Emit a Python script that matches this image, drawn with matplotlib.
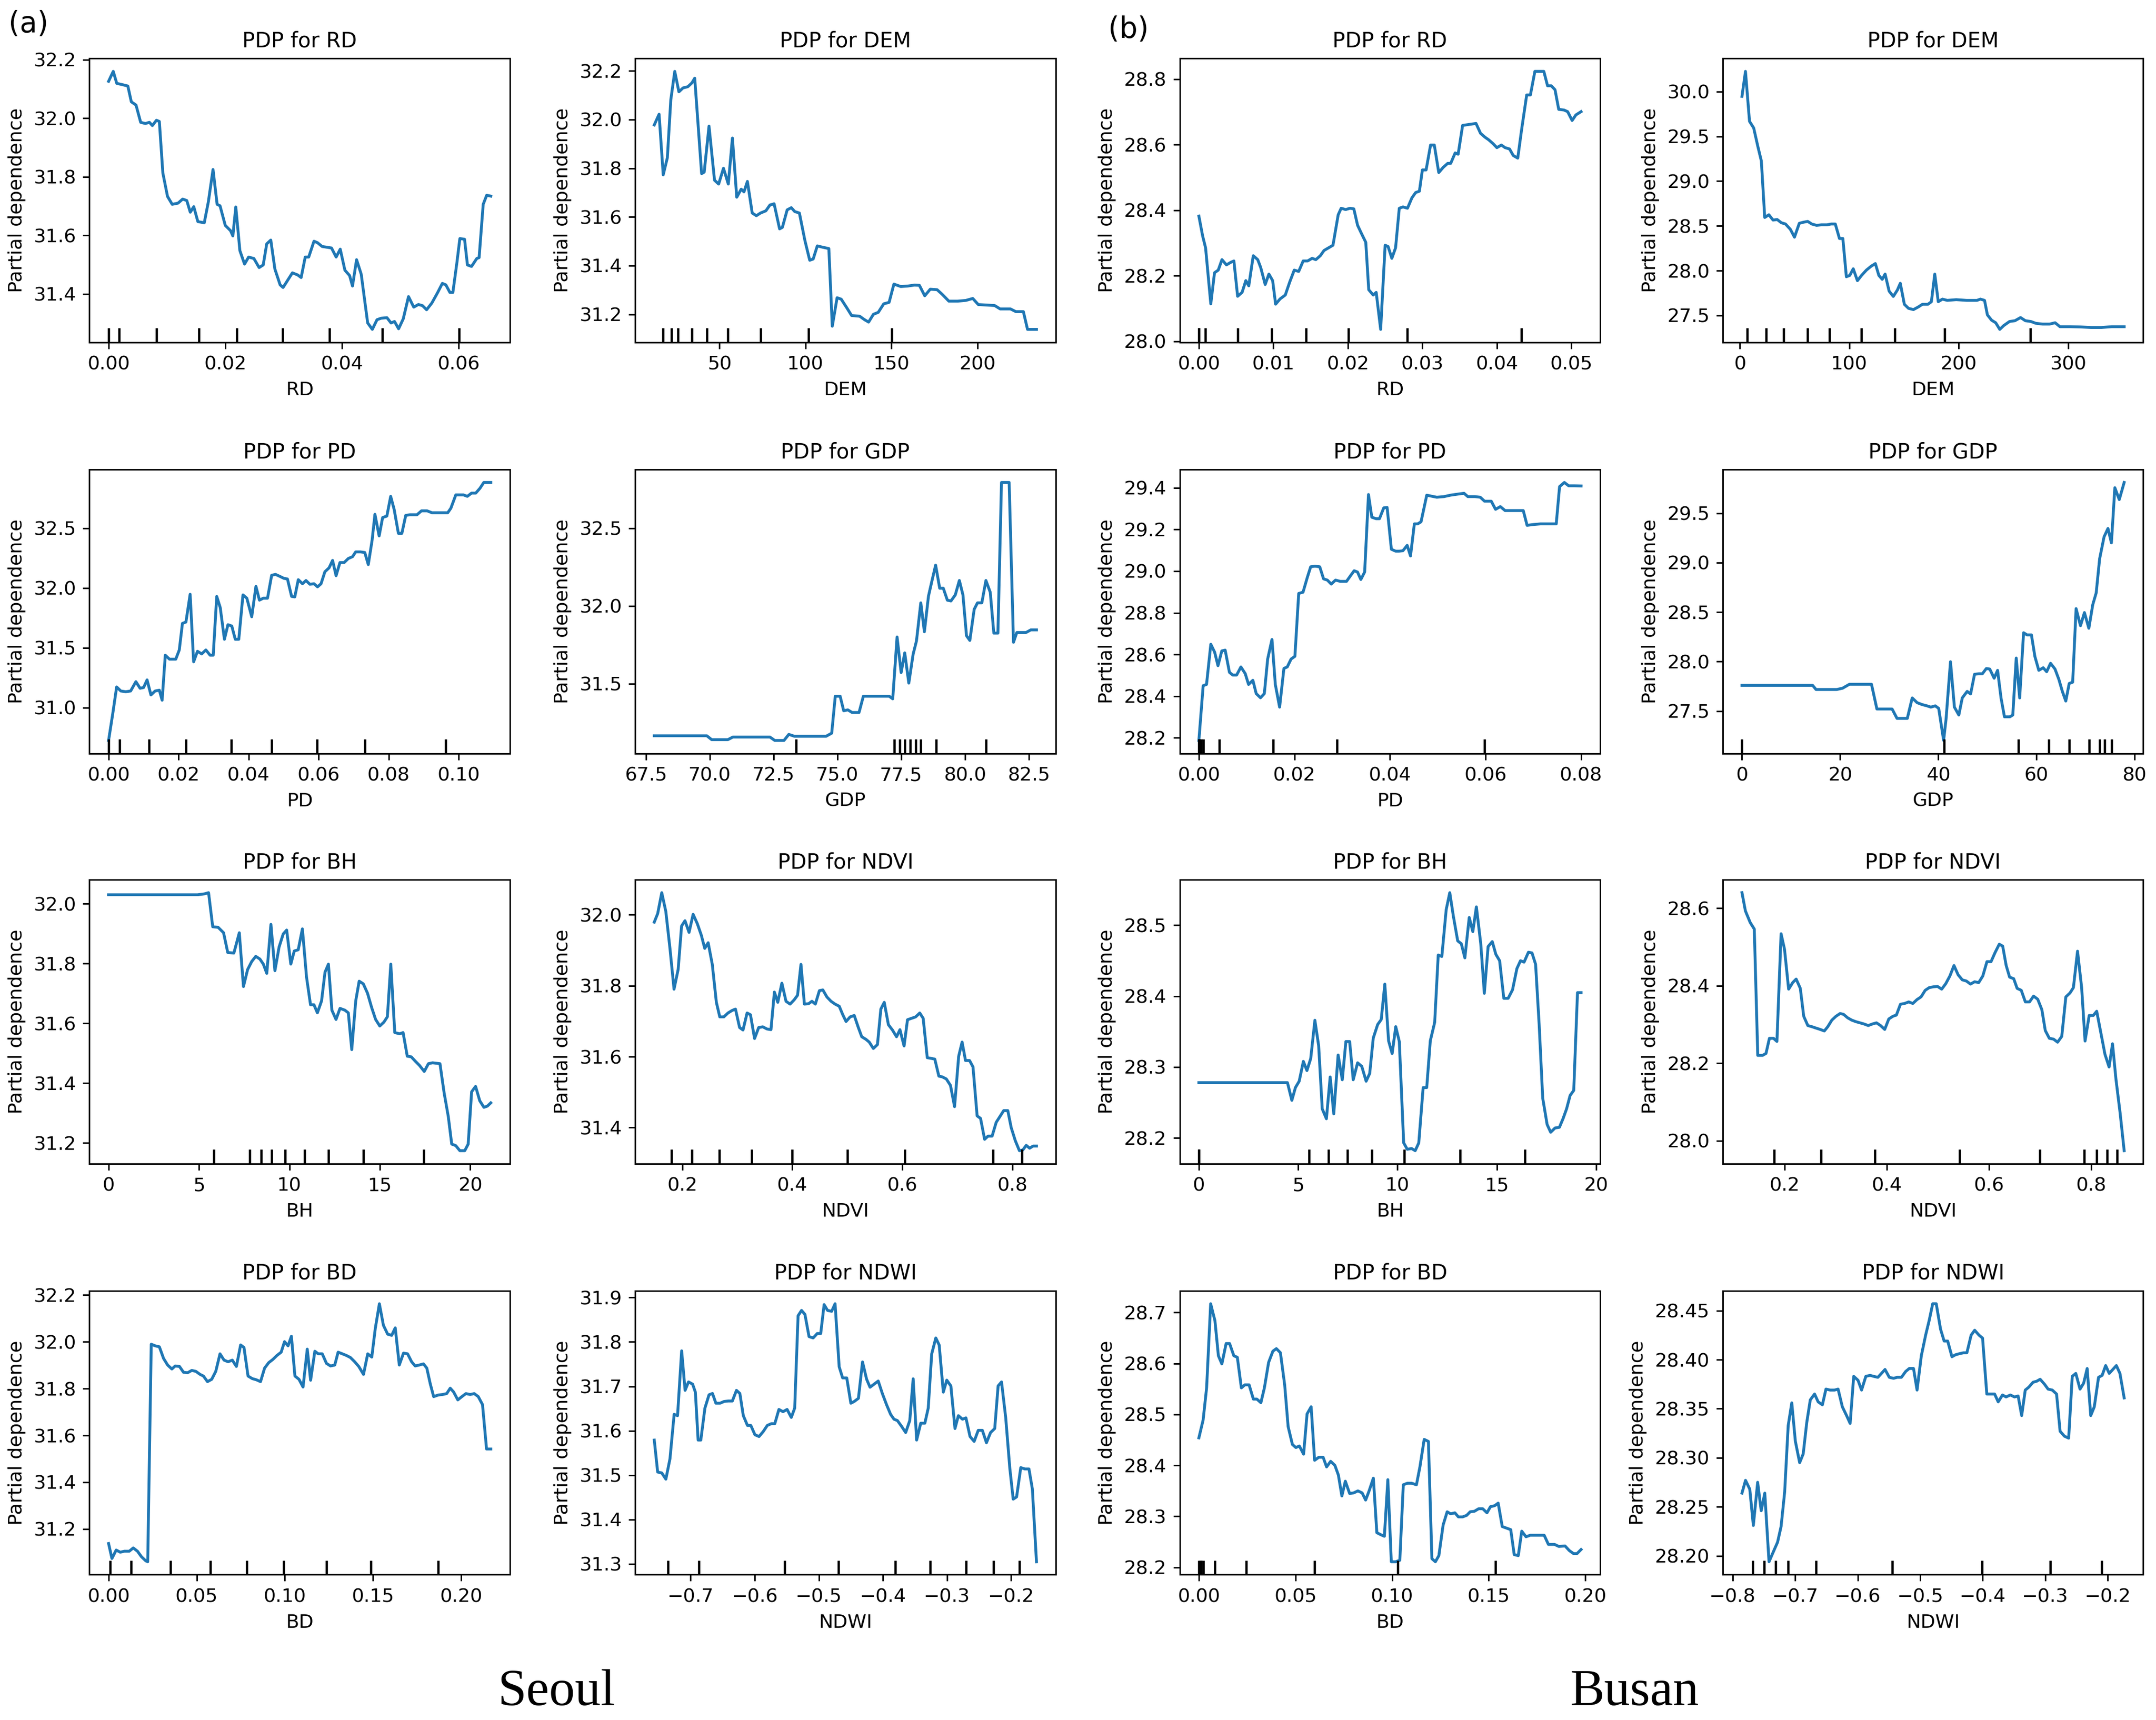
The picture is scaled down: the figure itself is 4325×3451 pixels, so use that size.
import matplotlib
matplotlib.use('Agg')
import matplotlib.pyplot as plt
from matplotlib.ticker import MultipleLocator

# ---- Seoul ----
seoul_rd_x = [0.0, 0.0008, 0.0014, 0.0023, 0.0033, 0.0039, 0.0047, 0.0055, 0.0063, 0.0070,
              0.0075, 0.0082, 0.0087, 0.0093, 0.0101, 0.0109, 0.0119, 0.0127, 0.0134, 0.0140,
              0.0146, 0.0153, 0.0164, 0.0171, 0.0179, 0.0186, 0.0191, 0.0200, 0.0209, 0.0213,
              0.0218, 0.0225, 0.0233, 0.0240, 0.0249, 0.0258, 0.0265, 0.0271, 0.0278, 0.0285,
              0.0294, 0.0299, 0.0315, 0.0324, 0.0330, 0.0337, 0.0343, 0.0352, 0.0358, 0.0366,
              0.0382, 0.0390, 0.0397, 0.0405, 0.0413, 0.0418, 0.0425, 0.0433, 0.0444, 0.0452,
              0.0460, 0.0467, 0.0477, 0.0484, 0.0490, 0.0497, 0.0505, 0.0514, 0.0523, 0.0531,
              0.0538, 0.0545, 0.0554, 0.0564, 0.0572, 0.0578, 0.0585, 0.0590, 0.0597, 0.0602,
              0.0610, 0.0615, 0.0622, 0.0631, 0.0635, 0.0642, 0.0648, 0.0655]
seoul_rd_y = [32.126, 32.160, 32.119, 32.115, 32.110, 32.056, 32.045, 31.986, 31.982, 31.986,
              31.975, 31.993, 31.989, 31.813, 31.733, 31.706, 31.710, 31.724, 31.719, 31.679,
              31.698, 31.647, 31.643, 31.715, 31.825, 31.706, 31.701, 31.634, 31.616, 31.598,
              31.697, 31.548, 31.502, 31.526, 31.521, 31.490, 31.499, 31.571, 31.584, 31.485,
              31.431, 31.422, 31.472, 31.465, 31.456, 31.526, 31.526, 31.580, 31.575, 31.562,
              31.557, 31.526, 31.553, 31.481, 31.463, 31.427, 31.517, 31.467, 31.301, 31.279,
              31.312, 31.317, 31.319, 31.301, 31.306, 31.281, 31.315, 31.391, 31.355, 31.364,
              31.360, 31.346, 31.369, 31.405, 31.436, 31.431, 31.405, 31.405, 31.508, 31.589,
              31.587, 31.499, 31.494, 31.521, 31.524, 31.706, 31.737, 31.734]
seoul_rd_dec = [0.0, 0.0018, 0.0082, 0.0155, 0.0220, 0.0298, 0.0379, 0.0469, 0.0601]

seoul_dem_x = [12.2, 15.0, 17.4, 19.8, 21.8, 24.1, 26.5, 28.9, 31.7, 34.1,
               35.7, 39.7, 41.2, 44.0, 47.2, 49.6, 52.4, 55.2, 57.6, 60.1,
               62.7, 64.3, 66.3, 69.1, 71.5, 73.9, 77.0, 79.4, 81.8, 85.0,
               86.6, 89.4, 91.8, 93.8, 96.5, 99.7, 102.5, 104.5, 106.9, 109.7,
               113.6, 115.6, 118.4, 120.8, 124.0, 126.8, 131.5, 134.3, 136.7, 139.5,
               142.3, 145.5, 148.6, 151.4, 155.4, 159.4, 163.4, 166.2, 169.3, 172.5,
               176.5, 179.3, 183.3, 188.4, 193.2, 197.2, 200.4, 205.1, 209.9, 213.1,
               219.1, 222.2, 226.6, 229.0, 234.2]
seoul_dem_y = [31.978, 32.022, 31.773, 31.843, 32.081, 32.198, 32.114, 32.130, 32.135, 32.151,
               32.170, 31.778, 31.784, 31.973, 31.751, 31.735, 31.800, 31.735, 31.924, 31.681,
               31.714, 31.703, 31.746, 31.616, 31.605, 31.616, 31.625, 31.649, 31.654, 31.551,
               31.557, 31.629, 31.638, 31.622, 31.616, 31.503, 31.422, 31.427, 31.481, 31.476,
               31.470, 31.151, 31.268, 31.262, 31.227, 31.195, 31.192, 31.178, 31.168, 31.200,
               31.208, 31.243, 31.249, 31.324, 31.314, 31.316, 31.320, 31.319, 31.276, 31.303,
               31.301, 31.283, 31.254, 31.254, 31.257, 31.265, 31.240, 31.238, 31.236, 31.222,
               31.222, 31.211, 31.211, 31.138, 31.138]
seoul_dem_dec = [17.4, 22.2, 26.1, 34.1, 42.8, 54.8, 73.9, 101.7, 150.2]

seoul_pd_x = [0.0, 0.0012, 0.0023, 0.0035, 0.0049, 0.0063, 0.0078, 0.0090, 0.0100, 0.0110,
              0.0121, 0.0133, 0.0145, 0.0153, 0.0162, 0.0174, 0.0192, 0.0202, 0.0211, 0.0221,
              0.0233, 0.0243, 0.0254, 0.0266, 0.0278, 0.0290, 0.0299, 0.0309, 0.0319, 0.0331,
              0.0341, 0.0352, 0.0362, 0.0372, 0.0384, 0.0395, 0.0409, 0.0421, 0.0431, 0.0442,
              0.0454, 0.0466, 0.0477, 0.0489, 0.0501, 0.0511, 0.0523, 0.0532, 0.0542, 0.0554,
              0.0564, 0.0575, 0.0587, 0.0597, 0.0607, 0.0618, 0.0630, 0.0640, 0.0650, 0.0661,
              0.0673, 0.0685, 0.0697, 0.0706, 0.0720, 0.0732, 0.0742, 0.0753, 0.0761, 0.0773,
              0.0783, 0.0795, 0.0806, 0.0816, 0.0828, 0.0838, 0.0849, 0.0861, 0.0881, 0.0894,
              0.0910, 0.0924, 0.0949, 0.0969, 0.0978, 0.0992, 0.1014, 0.1025, 0.1037, 0.1049,
              0.1061, 0.1072, 0.1092]
seoul_pd_y = [30.726, 30.951, 31.173, 31.139, 31.133, 31.139, 31.217, 31.162, 31.168, 31.232,
              31.106, 31.139, 31.146, 31.062, 31.438, 31.405, 31.405, 31.482, 31.704, 31.715,
              31.947, 31.383, 31.471, 31.449, 31.482, 31.438, 31.438, 31.929, 31.836, 31.571,
              31.693, 31.682, 31.571, 31.571, 31.942, 31.914, 31.759, 32.013, 31.898, 31.914,
              31.914, 32.106, 32.113, 32.097, 32.080, 32.075, 31.929, 31.925, 32.069, 32.035,
              32.062, 32.031, 32.035, 32.009, 32.035, 32.135, 32.168, 32.230, 32.102, 32.212,
              32.212, 32.246, 32.261, 32.301, 32.301, 32.296, 32.195, 32.400, 32.615, 32.434,
              32.588, 32.600, 32.765, 32.655, 32.456, 32.456, 32.606, 32.611, 32.611, 32.644,
              32.644, 32.628, 32.628, 32.628, 32.666, 32.777, 32.777, 32.765, 32.792, 32.792,
              32.832, 32.881, 32.881]
seoul_pd_dec = [0.0, 0.0031, 0.0115, 0.0221, 0.0350, 0.0466, 0.0595, 0.0732, 0.0963]

seoul_gdp_x = [67.83, 69.89, 70.08, 70.71, 70.91, 71.68, 72.36, 72.55, 72.91, 73.10,
               73.32, 74.56, 74.78, 74.92, 75.11, 75.25, 75.41, 75.58, 75.85, 76.02,
               76.62, 77.03, 77.17, 77.34, 77.50, 77.64, 77.80, 77.97, 78.10, 78.27,
               78.41, 78.57, 78.71, 78.85, 79.01, 79.15, 79.31, 79.45, 79.62, 79.78,
               79.92, 80.06, 80.19, 80.36, 80.49, 80.66, 80.82, 80.99, 81.13, 81.29,
               81.43, 81.73, 81.90, 82.03, 82.39, 82.58, 82.80]
seoul_gdp_y = [31.164, 31.164, 31.139, 31.139, 31.156, 31.156, 31.156, 31.134, 31.134, 31.173,
               31.161, 31.161, 31.181, 31.419, 31.419, 31.325, 31.331, 31.314, 31.314, 31.419,
               31.419, 31.419, 31.402, 31.800, 31.571, 31.698, 31.503, 31.690, 31.775, 32.020,
               31.834, 32.063, 32.164, 32.263, 32.114, 32.114, 32.037, 32.032, 32.071, 32.164,
               32.071, 31.808, 31.778, 31.978, 32.020, 32.020, 32.164, 32.088, 31.825, 31.825,
               32.795, 32.795, 31.766, 31.829, 31.829, 31.846, 31.846]
seoul_gdp_dec = [73.38, 77.23, 77.45, 77.64, 77.86, 78.08, 78.27, 78.87, 80.82]

seoul_bh_x = [0.0, 4.92, 5.30, 5.53, 5.76, 6.06, 6.36, 6.59, 6.93, 7.23,
              7.46, 7.69, 7.92, 8.14, 8.37, 8.56, 8.75, 8.98, 9.20, 9.43,
              9.66, 9.85, 10.08, 10.27, 10.49, 10.72, 10.95, 11.17, 11.36, 11.55,
              11.78, 11.97, 12.16, 12.35, 12.58, 12.80, 13.07, 13.26, 13.45, 13.67,
              13.86, 14.09, 14.32, 14.55, 14.77, 15.00, 15.23, 15.42, 15.61, 15.83,
              16.10, 16.29, 16.52, 16.74, 16.97, 17.20, 17.46, 17.69, 17.92, 18.33,
              18.56, 18.79, 18.98, 19.20, 19.43, 19.70, 19.89, 20.08, 20.30, 20.53,
              20.76, 20.95, 21.14]
seoul_bh_y = [32.030, 32.030, 32.033, 32.037, 31.923, 31.921, 31.903, 31.837, 31.835, 31.903,
              31.723, 31.780, 31.807, 31.824, 31.815, 31.798, 31.767, 31.931, 31.776, 31.855,
              31.899, 31.912, 31.798, 31.842, 31.846, 31.916, 31.754, 31.662, 31.662, 31.635,
              31.675, 31.771, 31.798, 31.644, 31.613, 31.650, 31.644, 31.635, 31.512, 31.675,
              31.741, 31.732, 31.701, 31.653, 31.613, 31.591, 31.604, 31.622, 31.798, 31.569,
              31.565, 31.569, 31.490, 31.488, 31.473, 31.459, 31.439, 31.465, 31.468, 31.465,
              31.367, 31.288, 31.196, 31.191, 31.174, 31.174, 31.196, 31.371, 31.389, 31.341,
              31.319, 31.323, 31.334]
seoul_bh_dec = [5.83, 7.80, 8.45, 9.02, 9.77, 10.83, 12.16, 14.09, 17.42]

seoul_ndvi_x = [0.1492, 0.1554, 0.1628, 0.1702, 0.1777, 0.1851, 0.1926, 0.1988, 0.2050, 0.2124,
                0.2198, 0.2273, 0.2347, 0.2409, 0.2471, 0.2546, 0.2620, 0.2682, 0.2756, 0.2831,
                0.2905, 0.2967, 0.3042, 0.3104, 0.3178, 0.3240, 0.3314, 0.3389, 0.3463, 0.3538,
                0.3612, 0.3674, 0.3736, 0.3810, 0.3885, 0.3959, 0.4033, 0.4095, 0.4157, 0.4219,
                0.4294, 0.4356, 0.4418, 0.4492, 0.4554, 0.4629, 0.4703, 0.4777, 0.4852, 0.4914,
                0.4976, 0.5050, 0.5125, 0.5199, 0.5261, 0.5335, 0.5397, 0.5472, 0.5546, 0.5608,
                0.5670, 0.5745, 0.5819, 0.5893, 0.5955, 0.6030, 0.6092, 0.6166, 0.6240, 0.6315,
                0.6377, 0.6451, 0.6526, 0.6588, 0.6662, 0.6724, 0.6798, 0.6873, 0.6947, 0.7022,
                0.7084, 0.7146, 0.7220, 0.7282, 0.7357, 0.7419, 0.7493, 0.7555, 0.7629, 0.7704,
                0.7766, 0.7840, 0.7914, 0.7976, 0.8051, 0.8125, 0.8187, 0.8249, 0.8311, 0.8373,
                0.8435]
seoul_ndvi_y = [31.979, 32.003, 32.062, 32.009, 31.905, 31.790, 31.846, 31.968, 31.983, 31.950,
                32.001, 31.975, 31.942, 31.905, 31.921, 31.860, 31.753, 31.712, 31.712, 31.723,
                31.730, 31.734, 31.682, 31.675, 31.723, 31.718, 31.651, 31.682, 31.684, 31.678,
                31.676, 31.782, 31.753, 31.807, 31.756, 31.748, 31.760, 31.773, 31.860, 31.748,
                31.749, 31.756, 31.748, 31.786, 31.788, 31.768, 31.756, 31.748, 31.742, 31.719,
                31.699, 31.712, 31.716, 31.682, 31.656, 31.649, 31.641, 31.623, 31.634, 31.734,
                31.753, 31.690, 31.675, 31.656, 31.676, 31.630, 31.704, 31.708, 31.712, 31.723,
                31.708, 31.597, 31.595, 31.593, 31.545, 31.543, 31.537, 31.519, 31.459, 31.601,
                31.641, 31.589, 31.589, 31.571, 31.433, 31.426, 31.367, 31.376, 31.376, 31.415,
                31.430, 31.448, 31.448, 31.400, 31.363, 31.335, 31.337, 31.350, 31.342, 31.348,
                31.348]
seoul_ndvi_dec = [0.1802, 0.2174, 0.2670, 0.3265, 0.3996, 0.5000, 0.6042, 0.7642, 0.8175]

seoul_bd_x = [0.0, 0.0019, 0.0043, 0.0066, 0.0090, 0.0117, 0.0140, 0.0164, 0.0187, 0.0211,
              0.0222, 0.0242, 0.0265, 0.0288, 0.0312, 0.0335, 0.0359, 0.0378, 0.0402, 0.0425,
              0.0448, 0.0472, 0.0495, 0.0519, 0.0538, 0.0561, 0.0585, 0.0608, 0.0632, 0.0655,
              0.0678, 0.0702, 0.0725, 0.0749, 0.0768, 0.0791, 0.0815, 0.0838, 0.0862, 0.0885,
              0.0908, 0.0932, 0.0955, 0.0979, 0.0998, 0.1018, 0.1037, 0.1057, 0.1080, 0.1103,
              0.1127, 0.1146, 0.1170, 0.1189, 0.1212, 0.1236, 0.1259, 0.1283, 0.1302, 0.1326,
              0.1349, 0.1372, 0.1396, 0.1419, 0.1446, 0.1470, 0.1493, 0.1513, 0.1536, 0.1559,
              0.1583, 0.1606, 0.1626, 0.1649, 0.1673, 0.1696, 0.1719, 0.1739, 0.1762, 0.1786,
              0.1805, 0.1825, 0.1844, 0.1871, 0.1895, 0.1918, 0.1938, 0.1957, 0.1981, 0.2004,
              0.2027, 0.2051, 0.2074, 0.2097, 0.2121, 0.2144, 0.2168]
seoul_bd_y = [31.138, 31.074, 31.110, 31.101, 31.105, 31.105, 31.119, 31.105, 31.081, 31.064,
              31.060, 31.990, 31.983, 31.979, 31.929, 31.901, 31.884, 31.897, 31.895, 31.870,
              31.868, 31.878, 31.874, 31.861, 31.854, 31.830, 31.840, 31.874, 31.949, 31.922,
              31.915, 31.922, 31.895, 31.987, 31.976, 31.854, 31.843, 31.838, 31.830, 31.888,
              31.911, 31.925, 31.942, 31.956, 32.001, 31.983, 32.024, 31.854, 31.840, 31.807,
              31.969, 31.836, 31.960, 31.949, 31.949, 31.908, 31.897, 31.901, 31.956, 31.949,
              31.942, 31.933, 31.915, 31.895, 31.861, 31.949, 31.935, 32.058, 32.163, 32.071,
              32.033, 32.028, 32.060, 31.901, 31.952, 31.949, 31.915, 31.897, 31.901, 31.906,
              31.888, 31.820, 31.766, 31.773, 31.775, 31.779, 31.802, 31.786, 31.752, 31.766,
              31.779, 31.775, 31.779, 31.766, 31.732, 31.542, 31.542]
seoul_bd_dec = [0.0008, 0.0129, 0.0351, 0.0577, 0.0784, 0.0994, 0.1236, 0.1489, 0.1871]

seoul_ndwi_x = [-0.7566, -0.7513, -0.7449, -0.7385, -0.7321, -0.7256, -0.7203, -0.7139, -0.7085, -0.7032,
                -0.6968, -0.6925, -0.6882, -0.6840, -0.6776, -0.6712, -0.6658, -0.6605, -0.6541, -0.6476,
                -0.6412, -0.6348, -0.6284, -0.6231, -0.6177, -0.6113, -0.6060, -0.5996, -0.5932, -0.5868,
                -0.5803, -0.5739, -0.5686, -0.5622, -0.5558, -0.5494, -0.5429, -0.5376, -0.5323, -0.5269,
                -0.5216, -0.5152, -0.5088, -0.5024, -0.4970, -0.4917, -0.4863, -0.4799, -0.4746, -0.4682,
                -0.4628, -0.4564, -0.4500, -0.4447, -0.4382, -0.4318, -0.4254, -0.4201, -0.4137, -0.4073,
                -0.4009, -0.3944, -0.3880, -0.3827, -0.3774, -0.3709, -0.3645, -0.3581, -0.3528, -0.3474,
                -0.3410, -0.3346, -0.3293, -0.3239, -0.3175, -0.3122, -0.3058, -0.3004, -0.2940, -0.2876,
                -0.2823, -0.2759, -0.2705, -0.2641, -0.2577, -0.2513, -0.2449, -0.2385, -0.2321, -0.2256,
                -0.2203, -0.2150, -0.2085, -0.2021, -0.1968, -0.1915, -0.1850, -0.1786, -0.1722, -0.1669,
                -0.1605]
seoul_ndwi_y = [31.579, 31.507, 31.505, 31.491, 31.537, 31.637, 31.634, 31.780, 31.691, 31.710,
                31.705, 31.687, 31.579, 31.579, 31.651, 31.681, 31.684, 31.662, 31.662, 31.666,
                31.667, 31.667, 31.691, 31.684, 31.634, 31.612, 31.612, 31.591, 31.587, 31.598,
                31.612, 31.616, 31.616, 31.648, 31.643, 31.648, 31.630, 31.651, 31.859, 31.871,
                31.862, 31.812, 31.809, 31.819, 31.819, 31.884, 31.871, 31.869, 31.886, 31.744,
                31.719, 31.719, 31.662, 31.666, 31.673, 31.755, 31.716, 31.698, 31.705, 31.712,
                31.684, 31.659, 31.637, 31.626, 31.623, 31.610, 31.596, 31.623, 31.717, 31.579,
                31.617, 31.617, 31.651, 31.773, 31.809, 31.793, 31.687, 31.714, 31.701, 31.605,
                31.634, 31.626, 31.629, 31.587, 31.576, 31.601, 31.601, 31.573, 31.596, 31.605,
                31.701, 31.710, 31.630, 31.516, 31.446, 31.451, 31.517, 31.514, 31.514, 31.469,
                31.305]
seoul_ndwi_dec = [-0.7353, -0.6872, -0.5536, -0.4692, -0.3806, -0.3261, -0.2705, -0.2278, -0.1872]

# ---- Busan ----
busan_rd_x = [0.0, 0.0005, 0.0009, 0.0016, 0.0021, 0.0026, 0.0031, 0.0037, 0.0043, 0.0047,
              0.0052, 0.0058, 0.0063, 0.0067, 0.0073, 0.0079, 0.0083, 0.0089, 0.0094, 0.0099,
              0.0103, 0.0109, 0.0116, 0.0122, 0.0128, 0.0134, 0.0140, 0.0146, 0.0152, 0.0157,
              0.0163, 0.0168, 0.0174, 0.0180, 0.0187, 0.0191, 0.0197, 0.0203, 0.0208, 0.0213,
              0.0218, 0.0224, 0.0228, 0.0234, 0.0238, 0.0244, 0.0250, 0.0254, 0.0259, 0.0264,
              0.0269, 0.0274, 0.0280, 0.0286, 0.0291, 0.0296, 0.0300, 0.0305, 0.0311, 0.0316,
              0.0322, 0.0328, 0.0334, 0.0338, 0.0344, 0.0348, 0.0354, 0.0360, 0.0366, 0.0372,
              0.0378, 0.0384, 0.0389, 0.0395, 0.0400, 0.0406, 0.0411, 0.0417, 0.0422, 0.0428,
              0.0433, 0.0440, 0.0445, 0.0451, 0.0457, 0.0463, 0.0468, 0.0473, 0.0478, 0.0483,
              0.0490, 0.0495, 0.0501, 0.0506, 0.0513]
busan_rd_y = [28.382, 28.322, 28.285, 28.114, 28.209, 28.217, 28.249, 28.233, 28.241, 28.245,
              28.137, 28.149, 28.185, 28.169, 28.261, 28.249, 28.225, 28.173, 28.205, 28.185,
              28.113, 28.129, 28.141, 28.181, 28.217, 28.213, 28.245, 28.245, 28.253, 28.249,
              28.261, 28.277, 28.285, 28.293, 28.386, 28.406, 28.402, 28.406, 28.404, 28.354,
              28.330, 28.302, 28.157, 28.141, 28.149, 28.036, 28.293, 28.289, 28.253, 28.285,
              28.406, 28.410, 28.406, 28.438, 28.454, 28.458, 28.523, 28.523, 28.599, 28.599,
              28.515, 28.531, 28.543, 28.543, 28.575, 28.571, 28.659, 28.661, 28.663, 28.665,
              28.635, 28.623, 28.615, 28.603, 28.591, 28.599, 28.591, 28.587, 28.567, 28.559,
              28.643, 28.752, 28.752, 28.824, 28.824, 28.824, 28.780, 28.780, 28.768, 28.708,
              28.706, 28.701, 28.674, 28.691, 28.701]
busan_rd_dec = [0.0, 0.0, 0.0009, 0.0052, 0.0098, 0.0144, 0.0201, 0.0280, 0.0433]

busan_dem_x = [1.9, 5.1, 8.8, 12.6, 16.4, 19.6, 22.7, 26.5, 30.3, 34.1,
               37.9, 41.7, 46.1, 49.9, 54.3, 58.1, 62.0, 65.7, 70.1, 74.5,
               79.6, 83.4, 87.2, 91.0, 94.1, 97.3, 100.4, 103.6, 107.4, 111.2,
               115.6, 120.0, 123.8, 127.0, 130.1, 132.7, 136.4, 140.2, 144.0, 146.6,
               150.3, 154.1, 158.6, 163.0, 166.8, 171.8, 175.0, 178.1, 181.3, 185.1,
               189.5, 197.7, 207.2, 216.7, 219.8, 223.6, 226.2, 230.0, 233.8, 237.5,
               241.3, 246.4, 251.4, 256.5, 260.9, 266.0, 270.4, 276.7, 283.0, 288.1,
               292.5, 302.0, 311.5, 320.9, 330.4, 339.9, 351.2]
busan_dem_y = [29.947, 30.226, 29.668, 29.594, 29.388, 29.226, 28.594, 28.624, 28.565, 28.571,
               28.535, 28.521, 28.462, 28.374, 28.529, 28.541, 28.550, 28.521, 28.506, 28.512,
               28.512, 28.521, 28.521, 28.359, 28.359, 27.932, 27.947, 28.021, 27.888, 27.947,
               28.006, 28.050, 28.079, 27.947, 27.903, 27.962, 27.771, 27.712, 27.785, 27.859,
               27.624, 27.579, 27.565, 27.594, 27.624, 27.624, 27.653, 27.962, 27.653, 27.682,
               27.668, 27.676, 27.668, 27.668, 27.682, 27.668, 27.506, 27.447, 27.418, 27.344,
               27.388, 27.432, 27.441, 27.476, 27.441, 27.432, 27.412, 27.403, 27.403, 27.418,
               27.374, 27.374, 27.371, 27.365, 27.365, 27.374, 27.374]
busan_dem_dec = [6.9, 24.0, 39.8, 61.9, 82.1, 111.2, 141.5, 187.0, 265.3]

busan_pd_x = [0.0, 0.0009, 0.0016, 0.0025, 0.0033, 0.0040, 0.0048, 0.0055, 0.0064, 0.0071,
              0.0079, 0.0088, 0.0097, 0.0104, 0.0113, 0.0120, 0.0129, 0.0137, 0.0144, 0.0153,
              0.0160, 0.0169, 0.0178, 0.0185, 0.0193, 0.0201, 0.0209, 0.0218, 0.0227, 0.0234,
              0.0243, 0.0253, 0.0261, 0.0269, 0.0277, 0.0286, 0.0296, 0.0309, 0.0318, 0.0325,
              0.0332, 0.0339, 0.0347, 0.0355, 0.0362, 0.0371, 0.0378, 0.0387, 0.0394, 0.0403,
              0.0412, 0.0419, 0.0427, 0.0436, 0.0443, 0.0451, 0.0458, 0.0465, 0.0477, 0.0485,
              0.0498, 0.0513, 0.0527, 0.0542, 0.0555, 0.0563, 0.0578, 0.0589, 0.0598, 0.0612,
              0.0621, 0.0631, 0.0641, 0.0664, 0.0679, 0.0687, 0.0700, 0.0715, 0.0736, 0.0748,
              0.0755, 0.0765, 0.0774, 0.0786, 0.0800]
busan_pd_y = [28.187, 28.450, 28.456, 28.649, 28.611, 28.546, 28.617, 28.621, 28.514, 28.501,
              28.501, 28.540, 28.508, 28.456, 28.476, 28.412, 28.392, 28.412, 28.578, 28.672,
              28.456, 28.347, 28.533, 28.540, 28.578, 28.591, 28.893, 28.899, 28.970, 29.021,
              29.024, 29.021, 28.963, 28.957, 28.938, 28.957, 28.951, 28.951, 28.980, 29.002,
              28.996, 28.960, 28.996, 29.368, 29.259, 29.252, 29.252, 29.304, 29.306, 29.105,
              29.096, 29.096, 29.098, 29.124, 29.073, 29.227, 29.227, 29.237, 29.365, 29.361,
              29.355, 29.358, 29.365, 29.370, 29.374, 29.358, 29.358, 29.355, 29.336, 29.336,
              29.297, 29.310, 29.291, 29.291, 29.291, 29.220, 29.224, 29.227, 29.227, 29.227,
              29.406, 29.426, 29.410, 29.410, 29.409]
busan_pd_dec = [0.0, 0.0, 0.0002, 0.0005, 0.0009, 0.0043, 0.0156, 0.0289, 0.0598]

busan_gdp_x = [0.0, 14.4, 15.1, 19.3, 20.5, 21.9, 26.4, 27.5, 30.6, 31.6,
               33.7, 34.7, 35.7, 36.7, 37.7, 38.5, 39.4, 40.1, 41.1, 41.6,
               42.5, 43.3, 44.2, 44.9, 45.9, 46.6, 47.4, 48.3, 49.0, 49.8,
               50.5, 51.4, 52.1, 52.8, 53.5, 54.6, 55.2, 55.9, 56.6, 57.4,
               58.1, 59.0, 59.7, 60.5, 61.4, 62.1, 62.9, 63.8, 64.6, 65.3,
               66.0, 66.7, 67.4, 68.1, 69.0, 69.8, 70.7, 71.5, 72.2, 72.9,
               73.8, 74.6, 75.3, 76.0, 76.9, 77.9]
busan_gdp_y = [27.760, 27.760, 27.718, 27.718, 27.731, 27.771, 27.771, 27.521, 27.521, 27.426,
               27.426, 27.633, 27.585, 27.566, 27.553, 27.540, 27.553, 27.527, 27.203, 27.420,
               27.999, 27.540, 27.460, 27.633, 27.699, 27.673, 27.872, 27.877, 27.877, 27.930,
               27.925, 27.832, 27.912, 27.633, 27.442, 27.442, 27.460, 28.036, 27.633, 28.292,
               28.270, 28.270, 28.052, 27.912, 27.938, 27.898, 27.983, 27.925, 27.819, 27.699,
               27.601, 27.779, 27.792, 28.536, 28.363, 28.496, 28.337, 28.576, 28.695, 29.040,
               29.261, 29.346, 29.200, 29.758, 29.638, 29.811]
busan_gdp_dec = [0.0, 41.2, 56.3, 62.5, 66.7, 70.8, 72.9, 73.9, 75.3]

busan_bh_x = [0.0, 4.46, 4.68, 4.86, 5.05, 5.26, 5.44, 5.63, 5.84, 6.03,
              6.21, 6.42, 6.61, 6.79, 7.01, 7.22, 7.40, 7.59, 7.77, 7.99,
              8.20, 8.42, 8.60, 8.78, 9.00, 9.18, 9.36, 9.55, 9.73, 9.91,
              10.09, 10.31, 10.49, 10.71, 10.89, 11.07, 11.29, 11.47, 11.65, 11.87,
              12.05, 12.23, 12.45, 12.63, 12.81, 13.03, 13.21, 13.39, 13.61, 13.79,
              13.97, 14.19, 14.37, 14.56, 14.77, 14.95, 15.14, 15.35, 15.57, 15.79,
              16.01, 16.19, 16.37, 16.59, 16.77, 16.95, 17.13, 17.31, 17.53, 17.71,
              17.93, 18.15, 18.33, 18.51, 18.69, 18.87, 19.06, 19.24]
busan_bh_y = [28.278, 28.278, 28.253, 28.271, 28.280, 28.308, 28.295, 28.312, 28.366, 28.330,
              28.241, 28.227, 28.286, 28.234, 28.317, 28.282, 28.336, 28.336, 28.282, 28.306,
              28.301, 28.280, 28.291, 28.341, 28.360, 28.367, 28.417, 28.337, 28.319, 28.357,
              28.336, 28.193, 28.184, 28.185, 28.182, 28.193, 28.271, 28.271, 28.337, 28.363,
              28.458, 28.456, 28.522, 28.546, 28.513, 28.478, 28.474, 28.454, 28.511, 28.491,
              28.526, 28.474, 28.404, 28.470, 28.477, 28.459, 28.450, 28.397, 28.397, 28.409,
              28.439, 28.450, 28.448, 28.462, 28.461, 28.445, 28.360, 28.256, 28.219, 28.208,
              28.214, 28.215, 28.227, 28.241, 28.260, 28.267, 28.405, 28.405]
busan_bh_dec = [0.0, 0.0, 5.55, 6.53, 7.48, 8.71, 10.34, 13.14, 16.41]

busan_ndvi_x = [0.1168, 0.1235, 0.1329, 0.1409, 0.1477, 0.1570, 0.1638, 0.1705, 0.1785, 0.1852,
                0.1933, 0.2000, 0.2081, 0.2161, 0.2228, 0.2309, 0.2376, 0.2456, 0.2537, 0.2604,
                0.2698, 0.2779, 0.2846, 0.2926, 0.3007, 0.3087, 0.3154, 0.3235, 0.3315, 0.3396,
                0.3477, 0.3557, 0.3638, 0.3718, 0.3799, 0.3879, 0.3960, 0.4040, 0.4121, 0.4188,
                0.4268, 0.4349, 0.4430, 0.4510, 0.4591, 0.4671, 0.4752, 0.4832, 0.4913, 0.4993,
                0.5074, 0.5154, 0.5235, 0.5315, 0.5396, 0.5477, 0.5557, 0.5638, 0.5718, 0.5799,
                0.5879, 0.5960, 0.6040, 0.6121, 0.6201, 0.6268, 0.6336, 0.6403, 0.6483, 0.6550,
                0.6631, 0.6711, 0.6792, 0.6872, 0.6953, 0.7034, 0.7101, 0.7181, 0.7262, 0.7342,
                0.7423, 0.7503, 0.7584, 0.7651, 0.7732, 0.7812, 0.7879, 0.7960, 0.8040, 0.8107,
                0.8188, 0.8268, 0.8349, 0.8416, 0.8483, 0.8564, 0.8644]
busan_ndvi_y = [28.640, 28.593, 28.563, 28.546, 28.220, 28.220, 28.225, 28.264, 28.264, 28.256,
                28.534, 28.494, 28.391, 28.408, 28.417, 28.393, 28.321, 28.297, 28.294, 28.291,
                28.287, 28.283, 28.294, 28.311, 28.321, 28.328, 28.326, 28.317, 28.311, 28.307,
                28.304, 28.301, 28.297, 28.301, 28.304, 28.297, 28.287, 28.314, 28.321, 28.324,
                28.352, 28.354, 28.358, 28.354, 28.364, 28.371, 28.388, 28.395, 28.397, 28.398,
                28.391, 28.405, 28.425, 28.452, 28.428, 28.415, 28.412, 28.404, 28.410, 28.408,
                28.425, 28.462, 28.462, 28.486, 28.507, 28.502, 28.452, 28.422, 28.418, 28.393,
                28.388, 28.358, 28.358, 28.373, 28.365, 28.338, 28.284, 28.264, 28.262, 28.254,
                28.269, 28.371, 28.381, 28.395, 28.489, 28.395, 28.257, 28.323, 28.323, 28.334,
                28.278, 28.223, 28.190, 28.250, 28.159, 28.072, 27.974]
busan_ndvi_dec = [0.1799, 0.2711, 0.3772, 0.5423, 0.6993, 0.7866, 0.8107, 0.8309, 0.8510]

busan_bd_x = [0.0, 0.0022, 0.0040, 0.0061, 0.0083, 0.0101, 0.0119, 0.0141, 0.0159, 0.0181,
              0.0199, 0.0220, 0.0238, 0.0260, 0.0282, 0.0300, 0.0321, 0.0339, 0.0361, 0.0383,
              0.0401, 0.0422, 0.0444, 0.0462, 0.0484, 0.0502, 0.0520, 0.0542, 0.0560, 0.0581,
              0.0599, 0.0621, 0.0643, 0.0661, 0.0682, 0.0704, 0.0722, 0.0740, 0.0758, 0.0780,
              0.0801, 0.0823, 0.0845, 0.0863, 0.0881, 0.0903, 0.0921, 0.0942, 0.0960, 0.0978,
              0.0996, 0.1018, 0.1040, 0.1058, 0.1079, 0.1101, 0.1126, 0.1144, 0.1166, 0.1188,
              0.1206, 0.1224, 0.1242, 0.1264, 0.1285, 0.1303, 0.1325, 0.1343, 0.1365, 0.1386,
              0.1404, 0.1426, 0.1448, 0.1469, 0.1491, 0.1509, 0.1531, 0.1549, 0.1570, 0.1592,
              0.1614, 0.1632, 0.1653, 0.1671, 0.1693, 0.1715, 0.1751, 0.1787, 0.1809, 0.1841,
              0.1863, 0.1895, 0.1917, 0.1939, 0.1957, 0.1978]
busan_bd_y = [28.454, 28.489, 28.552, 28.717, 28.684, 28.615, 28.599, 28.639, 28.639, 28.615,
              28.612, 28.552, 28.558, 28.558, 28.530, 28.530, 28.523, 28.552, 28.602, 28.624,
              28.629, 28.621, 28.558, 28.476, 28.441, 28.435, 28.438, 28.422, 28.501, 28.515,
              28.410, 28.416, 28.416, 28.397, 28.408, 28.400, 28.381, 28.340, 28.369, 28.345,
              28.346, 28.350, 28.346, 28.332, 28.350, 28.375, 28.268, 28.264, 28.261, 28.372,
              28.211, 28.211, 28.214, 28.362, 28.365, 28.365, 28.362, 28.397, 28.451, 28.447,
              28.217, 28.211, 28.223, 28.283, 28.309, 28.305, 28.307, 28.299, 28.299, 28.302,
              28.309, 28.310, 28.315, 28.315, 28.307, 28.319, 28.321, 28.326, 28.280, 28.277,
              28.274, 28.225, 28.223, 28.271, 28.260, 28.263, 28.263, 28.263, 28.245, 28.245,
              28.241, 28.242, 28.233, 28.227, 28.227, 28.235]
busan_bd_dec = [0.0, 0.0007, 0.0014, 0.0022, 0.0083, 0.0245, 0.0599, 0.1029, 0.1534]

busan_ndwi_x = [-0.7852, -0.7795, -0.7727, -0.7670, -0.7601, -0.7544, -0.7487, -0.7419, -0.7351, -0.7282,
                -0.7226, -0.7169, -0.7112, -0.7055, -0.6998, -0.6929, -0.6872, -0.6815, -0.6759, -0.6690,
                -0.6633, -0.6565, -0.6508, -0.6440, -0.6371, -0.6314, -0.6246, -0.6178, -0.6121, -0.6064,
                -0.5995, -0.5938, -0.5870, -0.5802, -0.5745, -0.5677, -0.5620, -0.5563, -0.5494, -0.5426,
                -0.5369, -0.5301, -0.5232, -0.5175, -0.5107, -0.5050, -0.4982, -0.4913, -0.4856, -0.4800,
                -0.4743, -0.4674, -0.4617, -0.4560, -0.4492, -0.4435, -0.4378, -0.4310, -0.4253, -0.4185,
                -0.4128, -0.4059, -0.4002, -0.3934, -0.3866, -0.3809, -0.3752, -0.3683, -0.3626, -0.3558,
                -0.3490, -0.3433, -0.3376, -0.3319, -0.3262, -0.3194, -0.3137, -0.3080, -0.3011, -0.2954,
                -0.2886, -0.2818, -0.2761, -0.2692, -0.2624, -0.2567, -0.2510, -0.2442, -0.2385, -0.2328,
                -0.2271, -0.2214, -0.2146, -0.2089, -0.2032, -0.1975, -0.1918, -0.1861, -0.1804, -0.1736]
busan_ndwi_y = [28.264, 28.277, 28.268, 28.231, 28.275, 28.246, 28.264, 28.194, 28.204, 28.214,
                28.230, 28.265, 28.333, 28.356, 28.317, 28.295, 28.304, 28.336, 28.359, 28.365,
                28.357, 28.354, 28.370, 28.369, 28.369, 28.370, 28.352, 28.343, 28.335, 28.383,
                28.379, 28.369, 28.383, 28.384, 28.383, 28.382, 28.386, 28.390, 28.382, 28.381,
                28.382, 28.382, 28.388, 28.391, 28.391, 28.369, 28.404, 28.425, 28.440, 28.457,
                28.457, 28.431, 28.419, 28.419, 28.403, 28.405, 28.406, 28.407, 28.407, 28.425,
                28.430, 28.425, 28.422, 28.365, 28.365, 28.365, 28.357, 28.364, 28.362, 28.364,
                28.362, 28.363, 28.343, 28.369, 28.372, 28.377, 28.378, 28.380, 28.375, 28.370,
                28.369, 28.365, 28.327, 28.322, 28.320, 28.383, 28.386, 28.370, 28.376, 28.391,
                28.343, 28.352, 28.382, 28.384, 28.394, 28.386, 28.390, 28.394, 28.386, 28.361]
busan_ndwi_dec = [-0.7681, -0.7499, -0.7317, -0.7112, -0.6667, -0.5449, -0.4014, -0.2920, -0.2100]

# panel layout: (row, col, feature, x, y, deciles, x tick step, y tick step)
panels = [
    (0, 0, 'RD', seoul_rd_x, seoul_rd_y, seoul_rd_dec, 0.02, 0.2),
    (0, 1, 'DEM', seoul_dem_x, seoul_dem_y, seoul_dem_dec, 50, 0.2),
    (1, 0, 'PD', seoul_pd_x, seoul_pd_y, seoul_pd_dec, 0.02, 0.5),
    (1, 1, 'GDP', seoul_gdp_x, seoul_gdp_y, seoul_gdp_dec, 2.5, 0.5),
    (2, 0, 'BH', seoul_bh_x, seoul_bh_y, seoul_bh_dec, 5, 0.2),
    (2, 1, 'NDVI', seoul_ndvi_x, seoul_ndvi_y, seoul_ndvi_dec, 0.2, 0.2),
    (3, 0, 'BD', seoul_bd_x, seoul_bd_y, seoul_bd_dec, 0.05, 0.2),
    (3, 1, 'NDWI', seoul_ndwi_x, seoul_ndwi_y, seoul_ndwi_dec, 0.1, 0.1),
    (0, 2, 'RD', busan_rd_x, busan_rd_y, busan_rd_dec, 0.01, 0.2),
    (0, 3, 'DEM', busan_dem_x, busan_dem_y, busan_dem_dec, 100, 0.5),
    (1, 2, 'PD', busan_pd_x, busan_pd_y, busan_pd_dec, 0.02, 0.2),
    (1, 3, 'GDP', busan_gdp_x, busan_gdp_y, busan_gdp_dec, 20, 0.5),
    (2, 2, 'BH', busan_bh_x, busan_bh_y, busan_bh_dec, 5, 0.1),
    (2, 3, 'NDVI', busan_ndvi_x, busan_ndvi_y, busan_ndvi_dec, 0.2, 0.2),
    (3, 2, 'BD', busan_bd_x, busan_bd_y, busan_bd_dec, 0.05, 0.1),
    (3, 3, 'NDWI', busan_ndwi_x, busan_ndwi_y, busan_ndwi_dec, 0.1, 0.05),
]

col_left = [0.0415, 0.2946, 0.5472, 0.7991]
row_bottom = [0.801, 0.562, 0.3235, 0.0845]
ax_w, ax_h = 0.195, 0.165

fig = plt.figure(figsize=(4325 / 276, 3451 / 276), dpi=276)

for row, col, feat, xs, ys, dec, xstep, ystep in panels:
    ax = fig.add_axes([col_left[col], row_bottom[row], ax_w, ax_h])
    ax.plot(xs, ys, color='#1f77b4', lw=1.5)
    ylim = ax.get_ylim()
    # decile rug like sklearn's PartialDependenceDisplay
    ax.vlines(dec, 0, 0.05, transform=ax.get_xaxis_transform(), colors='k', lw=1.2)
    ax.set_ylim(ylim)
    ax.xaxis.set_major_locator(MultipleLocator(xstep))
    ax.yaxis.set_major_locator(MultipleLocator(ystep))
    ax.set_title('PDP for ' + feat, fontsize=11)
    ax.set_xlabel(feat, fontsize=10)
    ax.set_ylabel('Partial dependence', fontsize=10)
    ax.tick_params(labelsize=10)

fig.text(0.004, 0.986, '(a)', fontsize=15, ha='left', va='center')
fig.text(0.514, 0.983, '(b)', fontsize=15, ha='left', va='center')
fig.text(0.258, 0.016, 'Seoul', fontsize=27, family='Liberation Serif', ha='center', va='center')
fig.text(0.758, 0.016, 'Busan', fontsize=27, family='Liberation Serif', ha='center', va='center')

fig.savefig('out.png', dpi=276)
